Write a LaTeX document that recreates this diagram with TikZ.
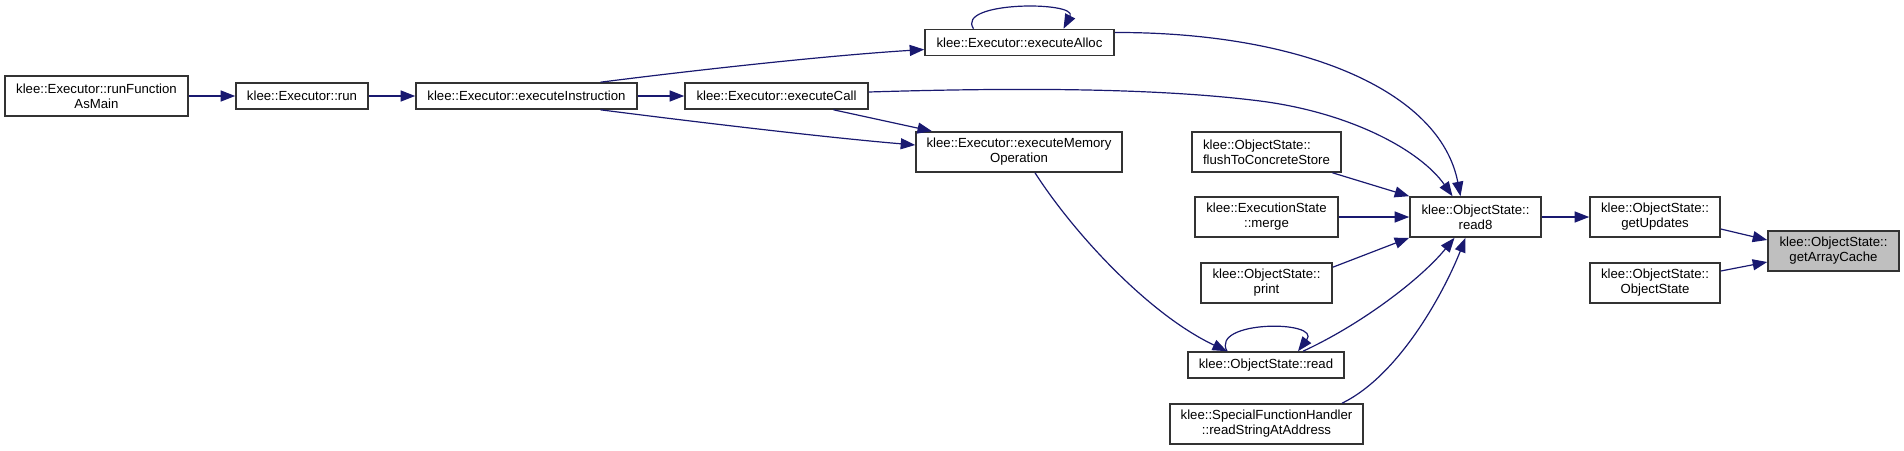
\documentclass[tikz,border=0pt]{standalone}
\usepackage{fontspec}
\setmainfont{Liberation Sans}
\usetikzlibrary{arrows.meta}
\definecolor{edgec}{RGB}{25,25,112}
\definecolor{fillsel}{RGB}{191,191,191}
\begin{document}
\begin{tikzpicture}[x=1pt,y=-1pt,
  fn/.style={draw=black!80, line width=1.6pt, fill=white, inner sep=0pt, align=center,
    font=\fontsize{13.2pt}{15pt}\selectfont},
  sel/.style={fn, fill=fillsel},
  call/.style={draw=edgec, line width=1.2pt, -{Triangle[length=14.5pt,width=11pt]}}
]
\useasboundingbox (0,0) rectangle (1904,450);

% nodes
\node[fn, minimum width=183pt, minimum height=40pt] (rfam) at (96.5,96) {klee::Executor::runFunction\\AsMain};
\node[fn, minimum width=132pt, minimum height=26pt] (run) at (302,96) {klee::Executor::run};
\node[fn, minimum width=221pt, minimum height=26pt] (ei) at (526.5,96) {klee::Executor::executeInstruction};
\node[fn, minimum width=183pt, minimum height=26pt] (ec) at (776.5,96) {klee::Executor::executeCall};
\node[fn, minimum width=189pt, minimum height=26pt] (ea) at (1019.5,42.5) {klee::Executor::executeAlloc};
\node[fn, minimum width=206pt, minimum height=40pt] (emo) at (1019,152) {klee::Executor::executeMemory\\Operation};
\node[fn, align=left, minimum width=149pt, minimum height=40pt] (flush) at (1266.5,152) {klee::ObjectState::\\flushToConcreteStore};
\node[fn, minimum width=143pt, minimum height=40pt] (merge) at (1266.5,217) {klee::ExecutionState\\::merge};
\node[fn, minimum width=131pt, minimum height=40pt] (print) at (1266.5,283) {klee::ObjectState::\\print};
\node[fn, minimum width=156pt, minimum height=26pt] (read) at (1266,365) {klee::ObjectState::read};
\node[fn, minimum width=193pt, minimum height=40pt] (rsa) at (1266.5,424) {klee::SpecialFunctionHandler\\::readStringAtAddress};
\node[fn, minimum width=131pt, minimum height=40pt] (read8) at (1475.5,217) {klee::ObjectState::\\read8};
\node[fn, minimum width=130pt, minimum height=40pt] (gu) at (1655,217) {klee::ObjectState::\\getUpdates};
\node[fn, minimum width=130pt, minimum height=40pt] (os) at (1655,283) {klee::ObjectState::\\ObjectState};
\node[sel, minimum width=131pt, minimum height=40pt] (gac) at (1833.5,251) {klee::ObjectState::\\getArrayCache};

% edges
\draw[call] (rfam.east) -- (run.west);
\draw[call] (run.east) -- (ei.west);
\draw[call] (ei.east) -- (ec.west);
\draw[call] ([xshift=74pt]ei.north) .. controls (680,72) and (820,56) .. ([yshift=-7pt]ea.west);
\draw[call] ([xshift=74pt]ei.south) .. controls (680,120) and (820,137) .. ([yshift=7pt]emo.west);
\draw[call] ([xshift=57pt]ec.south) -- ([xshift=-87pt]emo.north);
\draw[call] ([xshift=-46pt]ea.north) .. controls (955,1) and (1078,1) .. ([xshift=44pt]ea.north);
\draw[call] ([yshift=10pt]ea.east) .. controls (1300,32) and (1440,90) .. ([xshift=-15pt]read8.north);
\draw[call] ([yshift=4pt]ec.east) .. controls (1000,88) and (1150,87) .. (1260,101)
  .. controls (1350,112.5) and (1420,150) .. ([xshift=-23pt]read8.north);
\draw[call] ([xshift=66pt]flush.south) -- (read8.north west);
\draw[call] (merge.east) -- (read8.west);
\draw[call] ([yshift=-5pt]print.north east) -- (read8.south west);
\draw[call] ([xshift=16pt]emo.south) .. controls (1075,235) and (1150,315) .. ([xshift=-39pt]read.north);
\draw[call] ([xshift=-39pt]read.north) .. controls (1210,320) and (1322,320) .. ([xshift=32pt]read.north);
\draw[call] ([xshift=37pt]read.north) .. controls (1360,325) and (1420,280) .. ([xshift=-21pt]read8.south);
\draw[call] ([xshift=75.5pt]rsa.north) .. controls (1400,375) and (1445,290) .. ([xshift=-10pt]read8.south);
\draw[call] (read8.east) -- (gu.west);
\draw[call] ([yshift=-12pt]gu.east) -- ([yshift=11pt]gac.west);
\draw[call] ([yshift=12pt]os.east) -- ([yshift=-11pt]gac.west);
\end{tikzpicture}
\end{document}
